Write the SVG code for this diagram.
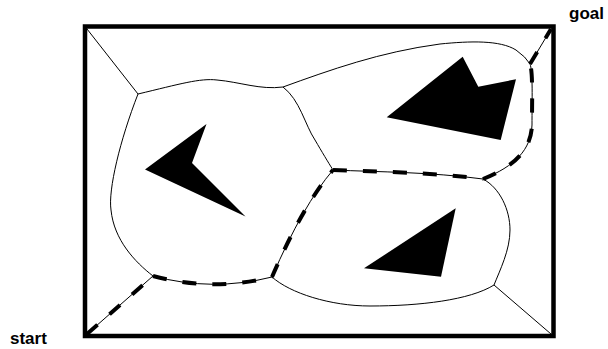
<svg xmlns="http://www.w3.org/2000/svg" width="608" height="349" viewBox="0 0 608 349">
<style>
.edge{fill:none;stroke:#000;stroke-width:1}
.path{fill:none;stroke:#000;stroke-width:4;stroke-dasharray:14 16}
.obs{fill:#000;stroke:none}
.lbl{font-family:"Liberation Sans",Arial,sans-serif;font-weight:bold;font-size:17px;fill:#000}
</style>
<rect width="608" height="349" fill="#fff"/>
<g id="border"><rect x="85" y="26.5" width="468.5" height="309.5" fill="none" stroke="#000" stroke-width="4.5"/></g>
<g id="obstacles">
<polygon id="obstacle-left" class="obs" points="206.5,124 145,169.5 245.5,216.5 192,163"/>
<polygon id="obstacle-upper-right" class="obs" points="386.7,117.3 462.7,56.7 478.3,86.7 516,79.3 500.7,140"/>
<polygon id="obstacle-lower-right" class="obs" points="364,268.3 455.7,208.3 441,276.7"/>
</g>
<g id="connectors">
<path class="edge" d="M87,29 L138,94"/>
<path class="edge" d="M138,94 C180,84 200,78 217,80 C240,82 260,90 283,87"/>
<path class="edge" d="M138,94 C120,140 108,190 111,210 C114,240 135,262 153,276"/>
<path class="edge" d="M283,87 C330,70 380,52 440,44 C470,41 500,40 516,50 Q526,57 530,64"/>
<path class="edge" d="M283,87 C300,100 305,125 315,140 C322,152 328,162 333,170"/>
<path class="edge" d="M530,64 C533,72 532,100 532,125 C531,150 515,166 483,179"/>
<path class="edge" d="M530,64 L551,29"/>
<path class="edge" d="M333,170 C380,172 430,172 483,179"/>
<path class="edge" d="M333,170 Q303,205 272,277"/>
<path class="edge" d="M87,334 L153,276"/>
<path class="edge" d="M153,276 Q212,292 272,277"/>
<path class="edge" d="M483,179 C500,188 510,210 510,230 C510,250 500,270 494,285"/>
<path class="edge" d="M494,285 C470,300 420,306 370,306 C330,306 290,293 272,277"/>
<path class="edge" d="M494,285 L551,334"/>
<path class="path" d="M87,334 L153,276"/>
<path class="path" d="M153,276 Q212,292 272,277"/>
<path class="path" d="M272,277 Q303,205 333,170"/>
<path class="path" d="M333,170 C380,172 430,172 483,179"/>
<path class="path" d="M483,179 C515,166 531,150 532,125 C532,100 533,72 530,64"/>
<path class="path" d="M530,64 L551,29"/>
</g>
<g id="labels">
<text class="lbl" x="569" y="18.5">goal</text>
<text class="lbl" x="10" y="344">start</text>
</g>
</svg>
